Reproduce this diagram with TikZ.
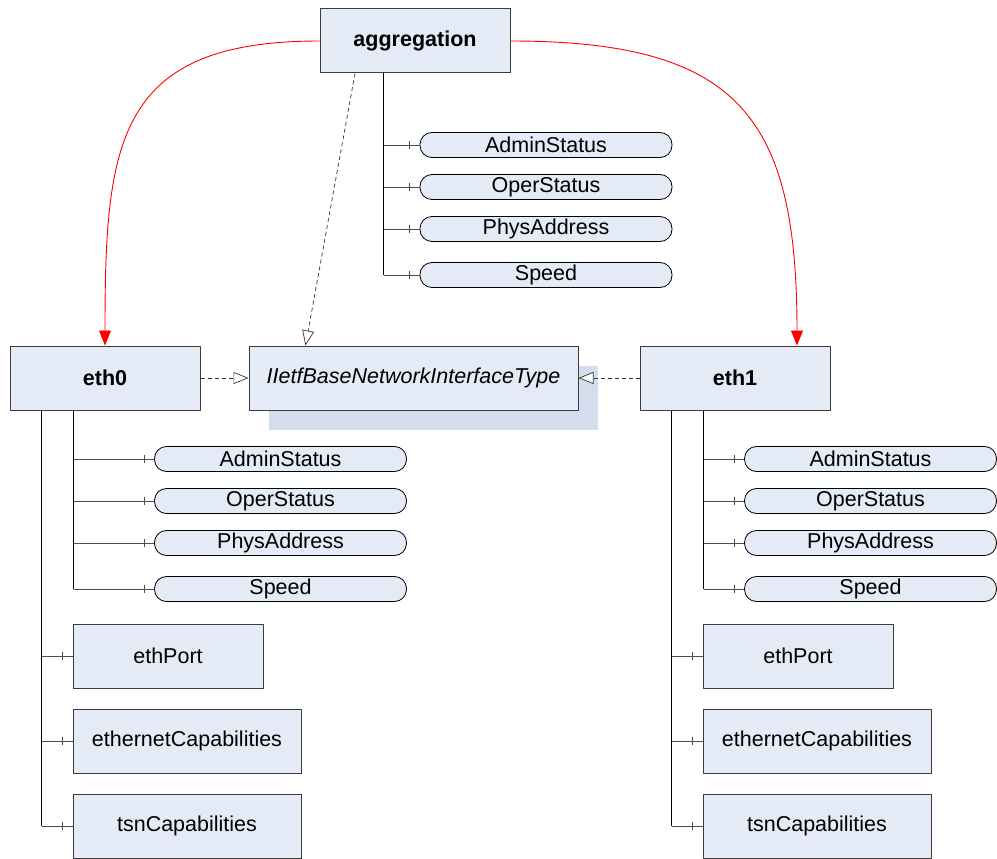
\documentclass[tikz,border=0pt]{standalone}
\usepackage{fontspec}
\setmainfont{Liberation Sans}
\usetikzlibrary{arrows.meta,positioning,calc,shadows,decorations.markings}
\definecolor{boxfill}{RGB}{228,235,246}
\definecolor{boxline}{RGB}{60,60,60}
\definecolor{shadefill}{RGB}{210,221,238}

\begin{document}
\begin{tikzpicture}[x=1pt,y=-1pt,line join=bevel,
  cls/.style={draw=boxline,fill=boxfill,line width=1pt,minimum width=190pt,minimum height=64pt,inner sep=0pt,font=\fontsize{21.5}{25}\selectfont},
  sub/.style={cls,minimum width=#1},
  attr/.style={draw=black,fill=boxfill,line width=0.8pt,rounded corners=12pt,minimum width=252pt,minimum height=25pt,inner sep=0pt,font=\fontsize{21.5}{25}\selectfont},
  trunk/.style={black,line width=1.2pt},
  branch/.style={black!70,line width=0.9pt,postaction={decorate},
    decoration={markings,mark=at position -10pt with {\draw[black!70,line width=0.9pt] (0,-4pt) -- (0,4pt);}}},
  realize/.style={dashed,dash pattern=on 4pt off 3pt,black!80,line width=0.7pt,-{Triangle[open,length=15pt,width=12pt,fill=white]}},
  member/.style={red,line width=0.9pt,-{Triangle[length=15pt,width=12pt]}},
]
\useasboundingbox (0,0) rectangle (997,859);

% classes
\node[cls,font=\fontsize{21.5}{25}\selectfont\bfseries] (agg) at (415,41) {aggregation};
\node[cls,font=\fontsize{21.5}{25}\selectfont\bfseries] (eth0) at (105,378) {eth0};
\node[cls,font=\fontsize{21.5}{25}\selectfont\bfseries] (eth1) at (735,378) {eth1};
\node[cls,minimum width=329pt,font=\fontsize{21.5}{25}\selectfont\itshape,
  drop shadow={shadow xshift=20pt,shadow yshift=-20pt,fill=shadefill,opacity=1}] (iface) at (413.5,378) {IIetfBaseNetworkInterfaceType};

% attributes of aggregation
\coordinate (aggT) at ($(agg.south west)+(64,0)$);
\foreach \y/\n/\t in {145/a/AdminStatus,187/b/OperStatus,229/c/PhysAddress,275/d/Speed}{
  \node[attr] (agg\n) at (546,\y) {\t};
  \draw[branch] (aggT |- agg\n) -- (agg\n.west);
}
\draw[trunk] (aggT) -- (aggT |- aggd);

% eth0 and eth1
\foreach \e/\x/\p in {eth0/0/0,eth1/630/590}{
  \coordinate (\e T) at ($(\e.south west)+(64,0)$);
  \coordinate (\e U) at ($(\e.south west)+(32,0)$);
  \foreach \y/\n/\t in {459/a/AdminStatus,501/b/OperStatus,543/c/PhysAddress,589/d/Speed}{
    \node[attr] (\e\n) at (280.5+\p,\y) {\t};
    \draw[branch] (\e T |- \e\n) -- (\e\n.west);
  }
  \draw[trunk] (\e T) -- (\e T |- \e d);
  \node[sub=190pt] (\e port) at (168+\x,656) {ethPort};
  \node[sub=228pt] (\e cap) at (187+\x,741) {ethernetCapabilities};
  \node[sub=228pt] (\e tsn) at (187+\x,826) {tsnCapabilities};
  \foreach \n in {port,cap,tsn}
    \draw[branch] (\e U |- \e\n) -- (\e\n.west);
  \draw[trunk] (\e U) -- (\e U |- \e tsn);
}

% connectors
\draw[member] (agg.west) to[out=180,in=90,looseness=1.4] (eth0.north);
\draw[member] (agg.east) to[out=0,in=90,looseness=1.4] ($(eth1.north)+(62,0)$);
\draw[realize] ($(agg.south)+(-60,0)$) -- ($(iface.north)+(-108,0)$);
\draw[realize] (eth0.east) -- (iface.west);
\draw[realize] (eth1.west) -- (iface.east);
\end{tikzpicture}
\end{document}
